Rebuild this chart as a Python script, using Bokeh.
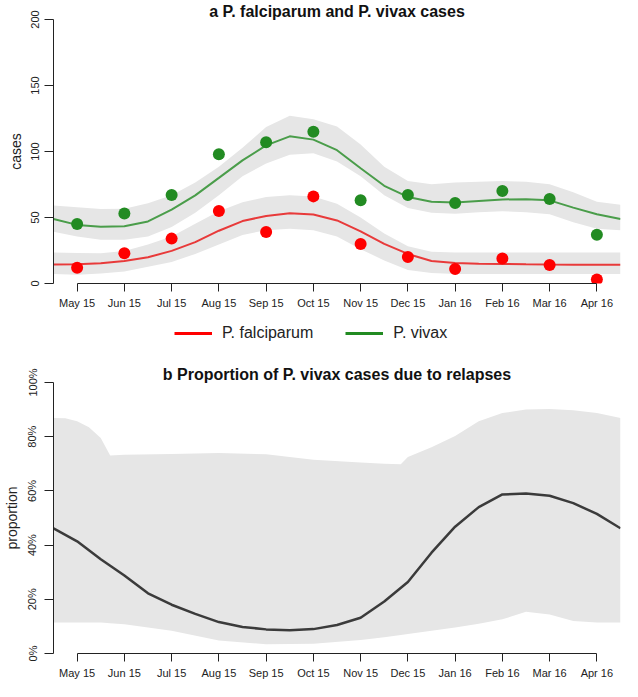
import numpy as np
from bokeh.plotting import figure
from bokeh.layouts import column
from bokeh.models import FixedTicker, Range1d, Legend, LegendItem
from bokeh.embed import file_html
from bokeh.resources import INLINE

# ---------------- data ----------------
month_labels = ["May 15", "Jun 15", "Jul 15", "Aug 15", "Sep 15", "Oct 15",
                "Nov 15", "Dec 15", "Jan 16", "Feb 16", "Mar 16", "Apr 16"]
month_pos = [0, 1, 2, 3, 4, 5, 6, 7, 8, 9, 10, 11]

pf_obs = [12, 23, 34, 55, 39, 66, 30, 20, 11, 19, 14, 3]
pv_obs = [45, 53, 67, 98, 107, 115, 63, 67, 61, 70, 64, 37]

fit_t = [-0.5, 0.0, 0.5, 1.0, 1.5, 2.0, 2.5, 3.0, 3.5, 4.0, 4.5, 5.0, 5.5,
         6.0, 6.5, 7.0, 7.5, 8.0, 8.5, 9.0, 9.5, 10.0, 10.5, 11.0, 11.5]

pv_fit = [48.8, 44.4, 43.0, 43.3, 47.0, 56.0, 66.8, 80.0, 93.3, 104.6, 111.5, 109.0, 101.0,
          87.3, 74.0, 65.6, 62.0, 61.3, 62.5, 63.7, 63.8, 63.0, 57.5, 52.5, 48.8]
pv_hi = [59.1, 57.7, 56.5, 56.6, 60.8, 66.8, 76.5, 88.4, 102.9, 118.5, 127.0, 124.5, 119.0,
         105.3, 88.4, 77.6, 75.2, 76.5, 77.0, 77.6, 77.0, 75.2, 69.2, 62.0, 59.6]
pv_lo = [39.2, 35.6, 33.2, 33.2, 35.6, 42.8, 53.6, 66.8, 81.2, 90.9, 97.5, 98.7, 92.5,
         81.2, 66.8, 57.2, 53.6, 52.9, 54.0, 54.8, 54.0, 52.4, 46.4, 41.5, 40.4]

pf_fit = [14.4, 14.6, 15.3, 17.0, 19.9, 24.7, 31.3, 40.0, 47.3, 51.2, 53.2, 52.2, 47.8,
          39.5, 30.0, 22.4, 17.0, 15.6, 15.0, 14.8, 14.5, 14.3, 14.2, 14.2, 14.2]
pf_hi = [23.5, 23.2, 23.0, 24.7, 29.6, 35.6, 45.2, 54.8, 61.5, 65.6, 66.8, 66.0, 60.5,
         50.0, 37.9, 28.3, 24.0, 23.5, 23.5, 23.5, 23.5, 23.5, 23.5, 23.5, 23.5]
pf_lo = [7.2, 6.7, 7.5, 9.1, 12.7, 16.3, 22.4, 29.6, 36.8, 40.4, 41.5, 40.4, 35.6,
         26.0, 17.5, 10.3, 7.9, 7.2, 7.2, 7.2, 7.2, 7.2, 7.2, 7.2, 7.2]

prop_fit = [46.2, 41.4, 34.8, 28.8, 22.2, 18.0, 14.6, 11.6, 9.8, 8.9, 8.6, 9.0, 10.5,
            13.2, 19.2, 26.4, 37.2, 46.8, 54.0, 58.7, 59.0, 58.2, 55.5, 51.5, 46.2]

band_t = [-0.5, -0.25, 0.0, 0.25, 0.5, 0.7, 1.0, 2.0, 3.0, 4.0, 5.0, 6.0,
          6.5, 6.85, 7.0, 7.5, 8.0, 8.5, 9.0, 9.5, 10.0, 10.5, 11.0, 11.5]
prop_hi = [86.9, 86.8, 85.7, 83.5, 79.5, 73.1, 73.3, 73.6, 74.0, 73.5, 71.5, 70.5,
           70.0, 69.8, 72.5, 76.1, 80.3, 85.7, 88.7, 90.0, 90.2, 89.8, 88.7, 86.9]
prop_lo = [11.4, 11.4, 11.4, 11.4, 11.4, 11.2, 10.8, 8.4, 4.8, 3.4, 3.6, 5.0,
           6.0, 6.8, 7.2, 8.4, 9.6, 11.0, 12.6, 15.4, 14.4, 12.0, 11.4, 11.4]

cases_ticks = [0, 50, 100, 150, 200]
prop_ticks = [0, 20, 40, 60, 80, 100]
legend_labels = ["P. falciparum", "P. vivax"]
legend_colors = ["#ff0000", "#228B22"]

FONT = "Liberation Sans"
AX = "#222222"
BAND = "#e6e6e6"


def style(p, yticks, ylabel, overrides=None):
    p.outline_line_color = None
    p.xgrid.visible = False
    p.ygrid.visible = False
    p.background_fill_color = "white"
    p.border_fill_color = "white"
    p.title.align = "center"
    p.title.text_font = FONT
    p.title.text_font_size = "16px"
    p.title.text_font_style = "bold"
    p.title.text_color = "#111111"
    p.title.standoff = 0
    xa = p.xaxis[0]
    xa.ticker = FixedTicker(ticks=month_pos)
    xa.major_label_overrides = {k: v for k, v in zip(month_pos, month_labels)}
    xa.bounds = (month_pos[0], month_pos[-1])
    xa.major_tick_out = 8
    xa.major_tick_in = 0
    xa.minor_tick_out = 0
    xa.minor_tick_in = 0
    xa.major_label_standoff = 5
    xa.axis_label_standoff = 0
    xa.major_label_text_font = FONT
    xa.major_label_text_font_size = "11px"
    xa.major_label_text_color = AX
    xa.axis_line_color = AX
    xa.major_tick_line_color = AX
    ya = p.yaxis[0]
    ya.ticker = FixedTicker(ticks=yticks)
    if overrides:
        ya.major_label_overrides = overrides
    ya.major_label_orientation = "vertical"
    ya.major_tick_out = 9
    ya.major_tick_in = 0
    ya.minor_tick_out = 0
    ya.minor_tick_in = 0
    ya.major_label_standoff = 6
    ya.major_label_text_font = FONT
    ya.major_label_text_font_size = "11px"
    ya.major_label_text_color = AX
    ya.axis_line_color = AX
    ya.major_tick_line_color = AX
    ya.axis_label = ylabel
    ya.axis_label_text_font = FONT
    ya.axis_label_text_font_size = "14px"
    ya.axis_label_text_font_style = "normal"
    ya.axis_label_text_color = AX
    ya.axis_label_standoff = 4


# ---------------- panel a ----------------
pa = figure(width=622, height=311,
            title="a P. falciparum and P. vivax cases",
            x_range=Range1d(fit_t[0], fit_t[-1]),
            y_range=Range1d(cases_ticks[0], cases_ticks[-1]),
            output_backend="svg", toolbar_location=None,
            min_border_top=0, min_border_right=2, min_border_bottom=0, min_border_left=8)
style(pa, cases_ticks, "cases")

pa.varea(x=fit_t, y1=pv_lo, y2=pv_hi, fill_color=BAND)
pa.varea(x=fit_t, y1=pf_lo, y2=pf_hi, fill_color=BAND)
pa.line(fit_t, pv_fit, line_color="#4a9d4a", line_width=2)
pa.line(fit_t, pf_fit, line_color="#e83a3a", line_width=2)
pa.scatter(month_pos, pv_obs, size=12, fill_color="#228B22", line_color=None)
pa.scatter(month_pos, pf_obs, size=12, fill_color="#ff0000", line_color=None)

# ---------------- legend strip ----------------
# the legend lines reuse the fitted series, which lie outside this strip's 0..1 window
pl = figure(width=622, height=40, output_backend="svg", toolbar_location=None,
            x_range=Range1d(0, 1), y_range=Range1d(0, 1),
            min_border=0)
pl.axis.visible = False
pl.grid.visible = False
pl.outline_line_color = None
pl.background_fill_color = "white"
pl.border_fill_color = "white"
items = []
for lab, col, series in zip(legend_labels, legend_colors, [pf_fit, pv_fit]):
    r = pl.line(fit_t, series, line_color=col, line_width=3)
    items.append(LegendItem(label=lab, renderers=[r]))
legend = Legend(items=items, orientation="horizontal", location=(121, 9),
                border_line_color=None, background_fill_alpha=0,
                label_text_font=FONT, label_text_font_size="16px", label_text_color=AX,
                glyph_width=38, glyph_height=18, label_height=18, label_standoff=10,
                spacing=32, padding=4, margin=0)
pl.add_layout(legend, "center")

# ---------------- panel b ----------------
pb = figure(width=622, height=330,
            title="b Proportion of P. vivax cases due to relapses",
            x_range=Range1d(fit_t[0], fit_t[-1]),
            y_range=Range1d(prop_ticks[0], prop_ticks[-1]),
            output_backend="svg", toolbar_location=None,
            min_border_top=31, min_border_right=2, min_border_bottom=0, min_border_left=8)
style(pb, prop_ticks, "proportion", {v: f"{v}%" for v in prop_ticks})

pb.varea(x=band_t, y1=prop_lo, y2=prop_hi, fill_color=BAND)
pb.line(fit_t, prop_fit, line_color="#3b3b3b", line_width=2.5)

layout = column(pa, pl, pb, spacing=0)
open("out.html", "w").write(file_html(layout, INLINE))
